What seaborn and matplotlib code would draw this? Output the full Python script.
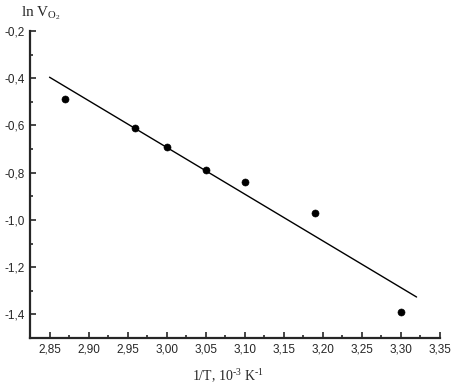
import numpy as np
import pandas as pd
import matplotlib
matplotlib.use("Agg")
import matplotlib.pyplot as plt
import seaborn as sns
from matplotlib.ticker import MultipleLocator, FuncFormatter

# data
inv_T = [2.87, 2.96, 3.00, 3.05, 3.10, 3.19, 3.30]
ln_V = [-0.49, -0.61, -0.69, -0.79, -0.84, -0.97, -1.39]
fit_range = [2.85, 3.32]

df = pd.DataFrame({"x": inv_T, "y": ln_V})

# linear fit
slope, icpt = np.polyfit(df["x"], df["y"], 1)
fit = pd.DataFrame({"x": fit_range})
fit["y"] = slope * fit["x"] + icpt

sns.set_style("ticks")
plt.rcParams["font.family"] = ["Liberation Sans", "DejaVu Sans"]
plt.rcParams["mathtext.fontset"] = "custom"
plt.rcParams["mathtext.rm"] = "Liberation Serif"
plt.rcParams["mathtext.it"] = "Liberation Serif:italic"

fig = plt.figure(figsize=(4.54, 3.84), dpi=100)
ax = fig.add_axes([30 / 454, 46 / 384, 410 / 454, 307 / 384])

sns.lineplot(data=fit, x="x", y="y", color="black", linewidth=1.0, ax=ax)
sns.scatterplot(data=df, x="x", y="y", color="black", s=26, edgecolor="black", ax=ax)

ax.set_xlim(2.825, 3.35)
ax.set_ylim(-1.5, -0.2)
ax.xaxis.set_major_locator(MultipleLocator(0.05))
ax.xaxis.set_minor_locator(MultipleLocator(0.025))
ax.yaxis.set_major_locator(MultipleLocator(0.2))
ax.yaxis.set_minor_locator(MultipleLocator(0.1))
ax.xaxis.set_major_formatter(FuncFormatter(lambda v, p: f"{v:.2f}".replace(".", ",")))
ax.yaxis.set_major_formatter(FuncFormatter(lambda v, p: f"{v:.1f}".replace(".", ",")))

ax.tick_params(which="major", direction="in", length=4.5, width=1.2, labelsize=8.5, pad=4)
ax.tick_params(which="minor", direction="in", length=2.2, width=1.2)
sns.despine(ax=ax)
for s in ["left", "bottom"]:
    ax.spines[s].set_linewidth(1.6)

ax.set_xlabel("")
ax.set_ylabel("")
fig.text(228 / 454, 3 / 384, r"1/T, 10$^{\text{-3}}$ K$^{\text{-1}}$", ha="center", va="baseline",
         fontsize=10, family="Liberation Serif")
fig.text(21 / 454, 1 - 16 / 384, r"ln V$_{\mathrm{O_2}}$", ha="left", va="baseline",
         fontsize=11, family="Liberation Serif")

fig.savefig("out.png", dpi=100)
